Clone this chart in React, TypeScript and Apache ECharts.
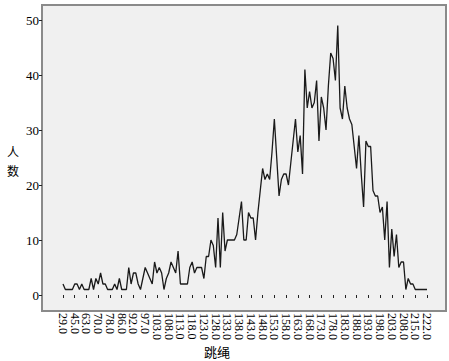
import React, { useEffect, useRef } from "react";
import * as echarts from "echarts";

// 跳绳 categories (observed distinct values)
const categories: number[] = [
  29, 33, 36, 40, 42, 45, 50, 55, 58, 60,
  63, 64, 65, 67, 68, 70, 72, 73, 75, 76,
  78, 80, 81, 83, 84, 86, 87, 88, 89, 90,
  92, 93, 94, 95, 96, 97, 98, 99, 100, 102,
  103, 104, 105, 106, 107, 108, 109, 110, 111, 112,
  113, 114, 115, 116, 117, 118, 119, 120, 121, 122,
  123, 124, 125, 126, 127, 128, 129, 130, 131, 132,
  133, 134, 135, 136, 137, 138, 139, 140, 141, 142,
  143, 144, 145, 146, 147, 148, 149, 150, 151, 152,
  153, 154, 155, 156, 157, 158, 159, 160, 161, 162,
  163, 164, 165, 166, 167, 168, 169, 170, 171, 172,
  173, 174, 175, 176, 177, 178, 179, 180, 181, 182,
  183, 184, 185, 186, 187, 188, 189, 190, 191, 192,
  193, 194, 195, 196, 197, 198, 199, 200, 201, 202,
  203, 204, 205, 206, 207, 208, 209, 210, 212, 213,
  215, 216, 218, 219, 220, 222,
];

// 人数 per category
const counts: number[] = [
  2, 1, 1, 1, 1, 2, 2, 1, 2, 1,
  1, 1, 3, 1, 3, 2, 4, 2, 2, 1,
  1, 1, 2, 1, 3, 1, 1, 1, 5, 2,
  4, 4, 2, 1, 3, 5, 4, 3, 2, 6,
  4, 5, 4, 1, 3, 4, 6, 5, 4, 8,
  2, 2, 2, 2, 5, 6, 4, 5, 5, 5,
  3, 7, 7, 10, 9, 5, 14, 5, 15, 8,
  10, 10, 10, 10, 11, 14, 17, 10, 10, 15,
  14, 14, 10, 15, 19, 23, 21, 22, 21, 26,
  32, 25, 18, 21, 22, 22, 20, 24, 28, 32,
  26, 29, 22, 41, 34, 37, 34, 35, 39, 28,
  36, 34, 30, 38, 44, 43, 39, 49, 34, 32,
  38, 34, 32, 31, 27, 23, 29, 22, 16, 28,
  27, 27, 19, 18, 18, 15, 16, 10, 17, 5,
  12, 7, 11, 5, 6, 6, 1, 3, 2, 2,
  1, 1, 1, 1, 1, 1,
];

const yTicks = [0, 10, 20, 30, 40, 50];
const labelEvery = 5;

export default function App() {
  const ref = useRef<HTMLDivElement>(null);
  useEffect(() => {
    if (!ref.current) return;
    const chart = echarts.init(ref.current, undefined, { renderer: "svg" });
    const serif = "'Liberation Serif', 'DejaVu Serif', serif";
    const cjk = "'Noto Sans CJK SC', sans-serif";
    chart.setOption({
      animation: false,
      backgroundColor: "#ffffff",
      grid: { left: 63, right: 22, top: 20, bottom: 66, containLabel: false },
      xAxis: {
        type: "category",
        data: categories.map((c) => c.toFixed(1)),
        boundaryGap: false,
        offset: 16,
        axisLine: { show: false },
        axisTick: { show: true, interval: labelEvery - 1, length: 3, lineStyle: { color: "#222", width: 1 } },
        axisLabel: {
          interval: 0,
          rotate: -90,
          margin: 2,
          color: "#000",
          fontFamily: serif,
          fontSize: 12,
          formatter: (v: string, i: number) => (i % labelEvery === 0 ? v : ""),
        },
        splitLine: { show: false },
      },
      yAxis: {
        type: "value",
        min: yTicks[0],
        max: yTicks[yTicks.length - 1],
        interval: 10,
        offset: 21,
        axisLine: { show: false },
        axisTick: { show: true, length: 3, lineStyle: { color: "#222", width: 1 } },
        axisLabel: { margin: 3, color: "#000", fontFamily: serif, fontSize: 13 },
        splitLine: { show: false },
      },
      graphic: [
        {
          type: "rect",
          z: -10,
          silent: true,
          shape: { x: 42, y: 5, width: 404, height: 306 },
          style: { fill: "#f0f0f0", stroke: "#8a8a8a", lineWidth: 2 },
        },
        {
          type: "text",
          x: 13,
          y: 151,
          style: { text: "人", fill: "#000", font: `12px ${cjk}`, textAlign: "center", textVerticalAlign: "middle" },
        },
        {
          type: "text",
          x: 13,
          y: 170,
          style: { text: "数", fill: "#000", font: `12px ${cjk}`, textAlign: "center", textVerticalAlign: "middle" },
        },
        {
          type: "text",
          x: 217,
          y: 351,
          style: { text: "跳绳", fill: "#000", font: `13px ${cjk}`, textAlign: "center", textVerticalAlign: "middle" },
        },
      ],
      series: [
        {
          type: "line",
          data: counts,
          symbol: "none",
          z: 5,
          lineStyle: { color: "#1a1a1a", width: 1.3 },
        },
      ],
    });
    return () => chart.dispose();
  }, []);
  return (
    <div
      ref={ref}
      style={{ position: "fixed", left: 0, top: 0, width: 449, height: 361 }}
    />
  );
}
